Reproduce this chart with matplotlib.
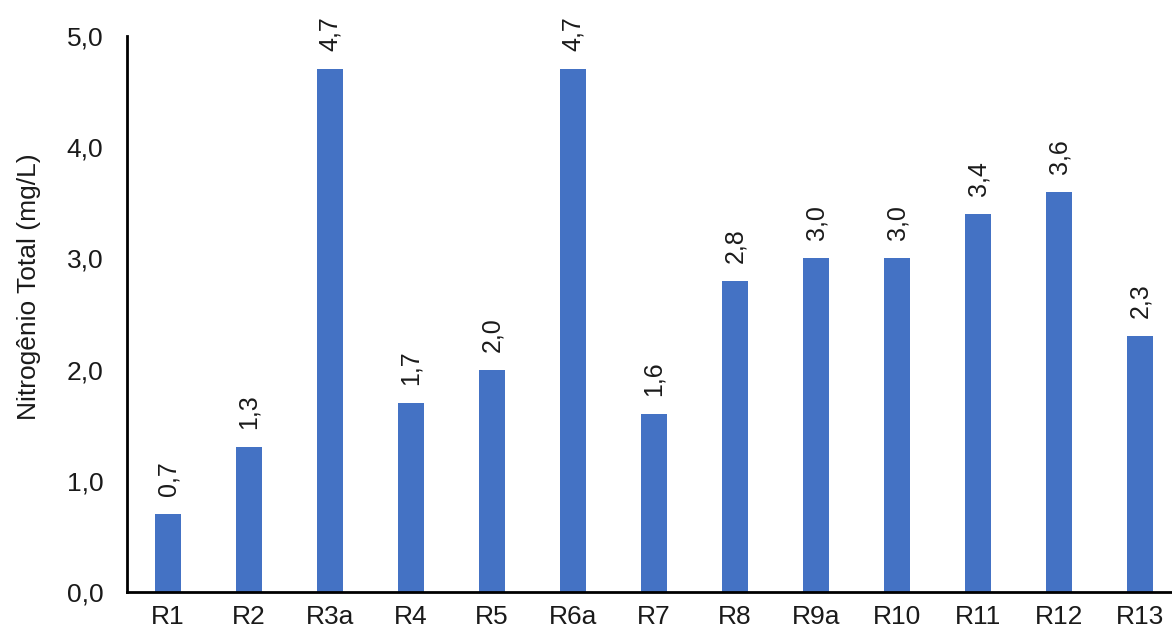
import matplotlib.pyplot as plt

plt.rcParams['font.family'] = ['Liberation Sans', 'DejaVu Sans']

# data
sites = ['R1', 'R2', 'R3a', 'R4', 'R5', 'R6a', 'R7', 'R8', 'R9a', 'R10', 'R11', 'R12', 'R13']
nitrogen = [0.7, 1.3, 4.7, 1.7, 2.0, 4.7, 1.6, 2.8, 3.0, 3.0, 3.4, 3.6, 2.3]
yticks = [0, 1, 2, 3, 4, 5]

fig = plt.figure(figsize=(11.72, 6.37), dpi=100)
ax = fig.add_axes([0.1084, 0.0706, 0.8916, 0.8729])

x = list(range(len(sites)))
ax.bar(x, nitrogen, width=0.32, color='#4472C4')

# value labels above bars, rotated like the original
for xi, v in zip(x, nitrogen):
    ax.annotate(f'{v:.1f}'.replace('.', ','), (xi, v), xytext=(0, 13),
                textcoords='offset points', rotation=90, ha='center', va='bottom',
                fontsize=18, color='#1a1a1a')

ax.set_xlim(-0.506, 12.395)
ax.set_ylim(0, 5)
ax.set_xticks(x)
ax.set_xticklabels(sites, fontsize=19)
ax.set_yticks(yticks)
ax.set_yticklabels([f'{t:.1f}'.replace('.', ',') for t in yticks], fontsize=19)
ax.tick_params(axis='y', length=0, pad=17, colors='#1a1a1a')
ax.tick_params(axis='x', length=0, pad=9, colors='#1a1a1a')
ax.set_ylabel('Nitrogênio Total (mg/L)', fontsize=19, color='#1a1a1a')
ax.yaxis.set_label_coords(-0.082, 0.55)

ax.spines['top'].set_visible(False)
ax.spines['right'].set_visible(False)
ax.spines['left'].set_linewidth(2)
ax.spines['bottom'].set_linewidth(2)

fig.savefig('out.png', dpi=100)
